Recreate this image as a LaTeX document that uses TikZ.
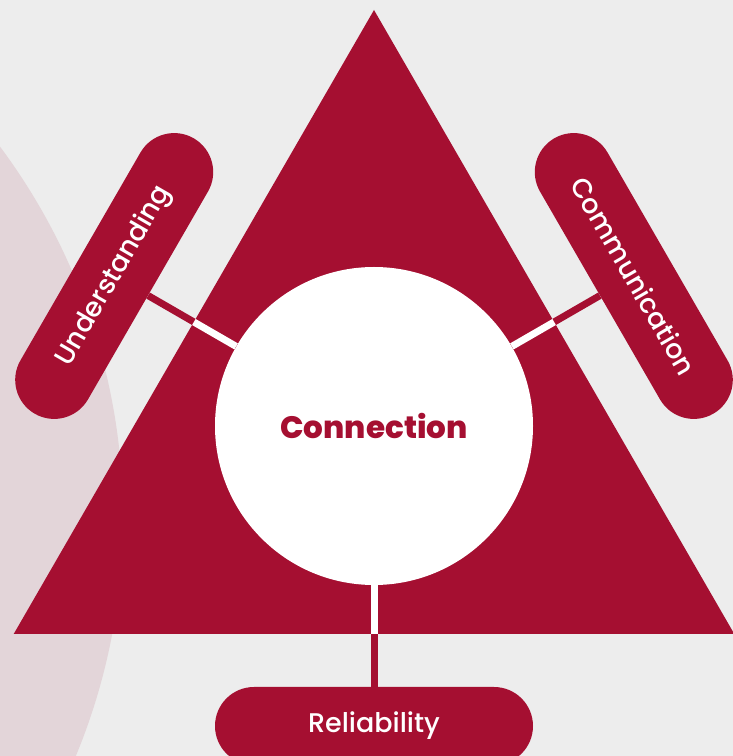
\documentclass[tikz,border=0pt]{standalone}
\usepackage{fontspec}
\setmainfont{Poppins}
\newfontfamily\pillfont{Poppins Medium}
\newfontfamily\hubfont{Poppins ExtraBold}
\usepackage{tikz}
\usetikzlibrary{positioning}
\definecolor{crimson}{HTML}{A50F31}
\definecolor{paper}{HTML}{EDEDED}
\definecolor{blush}{HTML}{E3D5D9}
\tikzset{
	pill/.style={fill=crimson, text=white, rounded corners=39pt, minimum width=318pt, minimum height=78pt, inner sep=0pt, font=\pillfont\fontsize{27}{27}\selectfont},
	link/.style={draw=crimson, line width=7pt},
}

\begin{document}
\begin{tikzpicture}[x=1pt,y=1pt]
	% Background %
	\clip (0,0) rectangle (733,756);
	\fill [color=paper] (0,0) rectangle (733,756);
	\fill [color=blush] (-499,238) circle (622);
	% Triangle %
	\fill [color=crimson] (374,746) -- (13.7,122) -- (734.3,122) -- cycle;
	% Centre and Pills %
	\node [circle, fill=white, minimum size=318pt, inner sep=0pt, text=crimson, font=\hubfont\fontsize{31}{31}\selectfont] (conn) at (374,330) {Connection};
	\node [pill, rotate=60] (und) at (114.2,480) {Understanding};
	\node [pill, rotate=-60] (com) at (633.8,480) {Communication};
	\node [pill] (rel) at (374,30) {Reliability};
	% Links %
	\foreach \p in {und,com,rel} {
		\draw [link] (conn) -- (\p);
		\begin{scope}
			\clip (374,746) -- (13.7,122) -- (734.3,122) -- cycle;
			\draw [link, draw=white] (conn) -- (\p);
		\end{scope}
	}
\end{tikzpicture}
\end{document}
